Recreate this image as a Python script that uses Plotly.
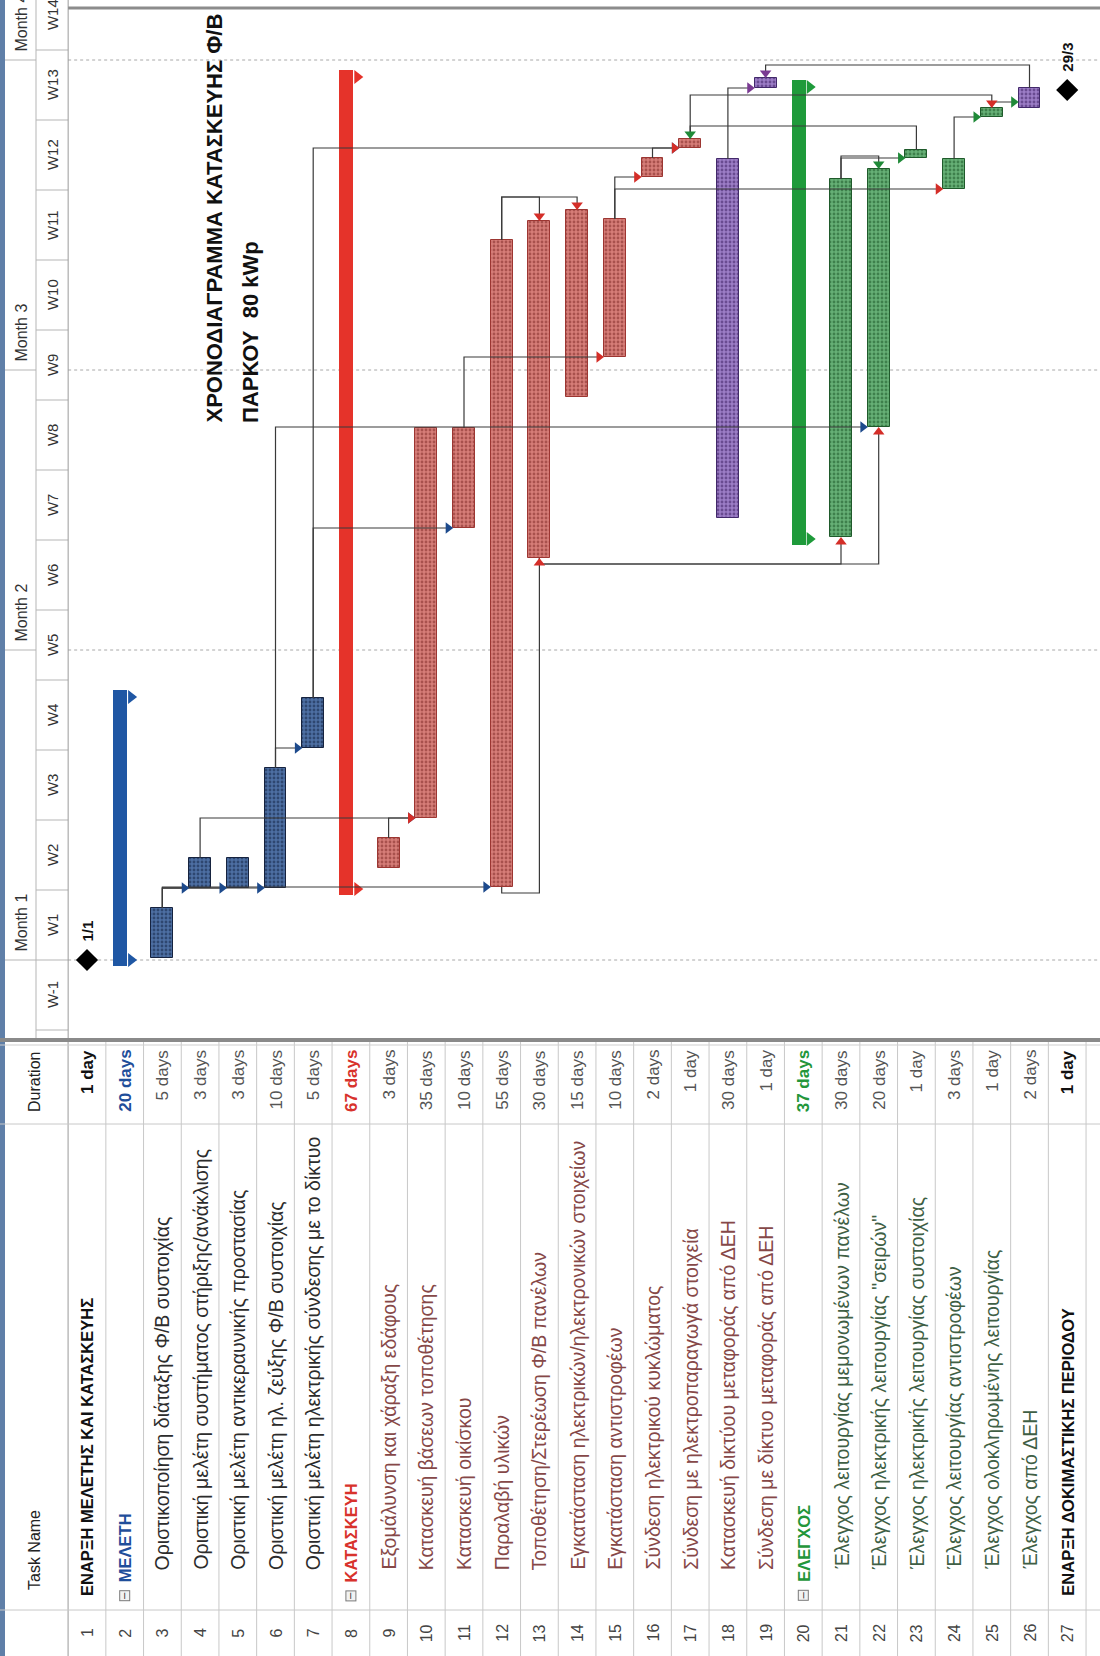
import datetime as dt
import plotly.graph_objects as go

# ---------------- schedule data ----------------
START_DATE = dt.date(2018, 1, 1)

task_ids = list(range(1, 28))
task_names = [
    "ΕΝΑΡΞΗ ΜΕΛΕΤΗΣ ΚΑΙ ΚΑΤΑΣΚΕΥΗΣ",
    "ΜΕΛΕΤΗ",
    "Οριστικοποίηση διάταξης Φ/Β συστοιχίας",
    "Οριστική μελέτη συστήματος στήριξης/ανάκλισης",
    "Οριστική μελέτη αντικεραυνικής προστασίας",
    "Οριστική μελέτη ηλ. ζεύξης Φ/Β συστοιχίας",
    "Οριστική μελέτη ηλεκτρικής σύνδεσης με το δίκτυο",
    "ΚΑΤΑΣΚΕΥΗ",
    "Εξομάλυνση και χάραξη εδάφους",
    "Κατασκευή βάσεων τοποθέτησης",
    "Κατασκευή οικίσκου",
    "Παραλαβή υλικών",
    "Τοποθέτηση/Στερέωση Φ/Β πανέλων",
    "Εγκατάσταση ηλεκτρικών/ηλεκτρονικών στοιχείων",
    "Εγκατάσταση αντιστροφέων",
    "Σύνδεση ηλεκτρικού κυκλώματος",
    "Σύνδεση με ηλεκτροπαραγωγά στοιχεία",
    "Κατασκευή δικτύου μεταφοράς από ΔΕΗ",
    "Σύνδεση με δίκτυο μεταφοράς από ΔΕΗ",
    "ΕΛΕΓΧΟΣ",
    "Έλεγχος λειτουργίας μεμονωμένων πανέλων",
    "Έλεγχος ηλεκτρικής λειτουργίας \"σειρών\"",
    "Έλεγχος ηλεκτρικής λειτουργίας συστοιχίας",
    "Έλεγχος λειτουργίας αντιστροφέων",
    "Έλεγχος ολοκληρωμένης λειτουργίας",
    "Έλεγχος από ΔΕΗ",
    "ΕΝΑΡΞΗ ΔΟΚΙΜΑΣΤΙΚΗΣ ΠΕΡΙΟΔΟΥ",
]
task_durations = [
    "1 day", "20 days", "5 days", "3 days", "3 days", "10 days", "5 days",
    "67 days", "3 days", "35 days", "10 days", "55 days", "30 days", "15 days",
    "10 days", "2 days", "1 day", "30 days", "1 day", "37 days", "30 days",
    "20 days", "1 day", "3 days", "1 day", "2 days", "1 day",
]
task_kind = (["milestone", "summary"] + ["task"] * 5 + ["summary"] + ["task"] * 11
             + ["summary"] + ["task"] * 6 + ["milestone"])
task_section = ["top"] + ["study"] * 6 + ["build"] * 12 + ["check"] * 7 + ["top"]

# work bars: row, start and finish in calendar days after the project start
bar_rows = [3, 4, 5, 6, 7, 9, 10, 11, 12, 13, 14, 15, 16, 17, 18, 19,
            21, 22, 23, 24, 25, 26]
bar_start = [0.2, 7.2, 7.2, 7.2, 21.2, 9.2, 14.2, 43.2, 7.3, 40.2, 56.3,
             60.3, 78.3, 81.2, 44.2, 87.2, 42.3, 53.3, 80.2, 77.1, 84.3, 85.2]
bar_finish = [5.2, 10.2, 10.2, 19.2, 26.2, 12.2, 53.2, 53.2, 72.0, 73.9,
              75.0, 74.1, 80.2, 82.1, 80.1, 88.2, 78.1, 79.1, 81.0, 80.1,
              85.2, 87.2]
bar_style = (["blue"] * 5 + ["red"] * 9 + ["purple"] * 2 + ["green"] * 5
             + ["purple"])

summary_rows = [2, 8, 20]
summary_children = [[3, 4, 5, 6, 7],
                    [9, 10, 11, 12, 13, 14, 15, 16, 17, 18, 19],
                    [21, 22, 23, 24, 25, 26]]
summary_style = ["blue", "red", "green"]

milestone_rows = [1, 27]
milestone_dates = [dt.date(2018, 1, 1), dt.date(2018, 3, 29)]

# dependencies: predecessor, successor, type
link_from = [3, 3, 3, 3, 4, 9, 6, 6, 7, 7, 11, 15, 15, 16, 18, 21, 24, 25,
             12, 12, 23, 17, 26, 21, 12, 13, 13]
link_to = [4, 5, 6, 12, 10, 10, 7, 22, 11, 17, 15, 16, 24, 17, 19, 23, 25, 26,
           13, 14, 17, 25, 19, 22, 13, 21, 22]
link_type = (["FS"] * 18 + ["FF"] * 6 + ["SS"] * 3)

# timescale
week_labels = ["W-1", "W1", "W2", "W3", "W4", "W5", "W6", "W7", "W8", "W9",
               "W10", "W11", "W12", "W13", "W14"]
week_edges = [-7, 0, 7, 14, 21, 28, 35, 42, 49, 56, 63, 70, 77, 84, 91, 98]
month_labels = ["Month 1", "Month 2", "Month 3", "Month 4"]
month_dates = [dt.date(2018, 1, 1), dt.date(2018, 2, 1), dt.date(2018, 3, 1),
               dt.date(2018, 4, 1)]

title_lines = ["ΧΡΟΝΟΔΙΑΓΡΑΜΜΑ ΚΑΤΑΣΚΕΥΗΣ Φ/Β", "ΠΑΡΚΟΥ  80 kWp"]

# ---------------- page geometry ----------------
W, H = 1100, 1656
ROW0_PX, ROW_PX = 87.0, 37.7      # centre of row 1, row pitch
DAY0_PX, DAY_PX = 960.0, 10.0     # project start line, pixels per day


def xr(px):
    return 1 + (px - ROW0_PX) / ROW_PX


def yd(px):
    return (DAY0_PX - px) / DAY_PX


def day_of(d):
    return (d - START_DATE).days


NARROW = "Liberation Sans Narrow, Arial Narrow, Liberation Sans, Arial, sans-serif"
BAR_W = 0.58
SUM_W, SUM_OFF = 0.37, -0.31

STYLE = {
    "blue": dict(fill="#4d6fa3", dots="#101f3d", edge="#16233f",
                 arrow="#1d4a8c", summary="#1f57a4"),
    "red": dict(fill="#d67d78", dots="#7a2622", edge="#9c3632",
                arrow="#d42e28", summary="#e5332a"),
    "purple": dict(fill="#9c7dc6", dots="#36195c", edge="#42296a",
                   arrow="#7a3a92", summary="#7a3a92"),
    "green": dict(fill="#66b076", dots="#154f22", edge="#1f5a2b",
                  arrow="#1f8a38", summary="#1e9a3a"),
}

fig = go.Figure()
shapes = []
ann = []

# ---------------- chart frame ----------------
chart_bottom = yd(1040)
x_left_edge = xr(0)
x_right_edge = xr(W)
x_tier = xr(36)
x_head = 0.5

# month gridlines (dotted)
for md in month_dates:
    shapes.append(dict(type="line", x0=x_head, x1=x_right_edge,
                       y0=day_of(md), y1=day_of(md),
                       line=dict(color="#a8a8a8", width=1, dash="dot"),
                       layer="below"))

# timescale header: week tier + month tier
for e in week_edges:
    if chart_bottom <= e <= yd(0):
        shapes.append(dict(type="line", x0=x_tier, x1=x_head, y0=e, y1=e,
                           line=dict(color="#b5b5b5", width=1)))
for i, lab in enumerate(week_labels):
    ann.append(dict(x=(x_tier + x_head) / 2, y=(week_edges[i] + week_edges[i + 1]) / 2,
                    text=lab, showarrow=False, textangle=-90,
                    font=dict(family=NARROW, size=15, color="#333333"),
                    xanchor="center", yanchor="middle"))
for md, lab in zip(month_dates, month_labels):
    d0 = day_of(md)
    shapes.append(dict(type="line", x0=xr(5), x1=x_tier, y0=d0, y1=d0,
                       line=dict(color="#b5b5b5", width=1)))
    ann.append(dict(x=(xr(5) + x_tier) / 2, y=d0 + 0.6, text=lab,
                    showarrow=False, textangle=-90,
                    font=dict(family=NARROW, size=16, color="#333333"),
                    xanchor="center", yanchor="bottom"))

# vertical rules of header column
shapes.append(dict(type="line", x0=x_tier, x1=x_tier, y0=chart_bottom, y1=yd(0),
                   line=dict(color="#b5b5b5", width=1)))
shapes.append(dict(type="line", x0=x_head, x1=x_head, y0=yd(H), y1=yd(0),
                   line=dict(color="#9a9a9a", width=1)))
# outer left border and top rule
shapes.append(dict(type="rect", x0=x_left_edge, x1=xr(5), y0=yd(H), y1=yd(0),
                   fillcolor="#5f7fa8", line=dict(width=0)))
shapes.append(dict(type="line", x0=x_head, x1=x_right_edge, y0=yd(8), y1=yd(8),
                   line=dict(color="#8c8c8c", width=3)))

# ---------------- table ----------------
table_top = yd(1040)
table_bot = yd(H)
for k in range(0, 28):
    xb = k + 0.5
    shapes.append(dict(type="line", x0=xb, x1=xb, y0=table_bot, y1=table_top,
                       line=dict(color="#c8c8c8", width=1)))
for py in (1610, 1124):
    shapes.append(dict(type="line", x0=x_left_edge, x1=x_right_edge,
                       y0=yd(py), y1=yd(py), line=dict(color="#c8c8c8", width=1)))
shapes.append(dict(type="line", x0=x_left_edge, x1=x_right_edge,
                   y0=yd(1040), y1=yd(1040), line=dict(color="#8a8a8a", width=4)))
shapes.append(dict(type="line", x0=x_left_edge, x1=x_right_edge,
                   y0=yd(1045), y1=yd(1045), line=dict(color="#cfcfcf", width=1)))

ann.append(dict(x=xr(34), y=yd(1592), text="Task Name", showarrow=False,
                textangle=-90, font=dict(family=NARROW, size=16, color="#222222"),
                xanchor="center", yanchor="bottom"))
ann.append(dict(x=xr(34), y=yd(1082), text="Duration", showarrow=False,
                textangle=-90, font=dict(family=NARROW, size=16, color="#222222"),
                xanchor="center", yanchor="middle"))

NAME_COL = {
    ("top", "milestone"): "#111111",
    ("study", "summary"): "#1f4e9a", ("study", "task"): "#2c2c2c",
    ("build", "summary"): "#d8322c", ("build", "task"): "#864848",
    ("check", "summary"): "#23963a", ("check", "task"): "#3f5f45",
}
for tid, name, dur, kind, sec in zip(task_ids, task_names, task_durations,
                                      task_kind, task_section):
    col = NAME_COL[(sec, kind)]
    bold = kind in ("milestone", "summary")
    ann.append(dict(x=tid, y=yd(1633), text=str(tid), showarrow=False,
                    textangle=-90, font=dict(family=NARROW, size=16, color="#444444"),
                    xanchor="center", yanchor="middle"))
    if kind == "summary":
        ann.append(dict(x=tid, y=yd(1601), text="−", showarrow=False,
                        textangle=-90, width=9, height=9, borderpad=0,
                        bordercolor="#7a7a7a", borderwidth=1, bgcolor="#f2f2f2",
                        font=dict(family="DejaVu Sans", size=10, color="#333333"),
                        xanchor="center", yanchor="bottom"))
        y_name = yd(1584)
    elif kind == "milestone":
        y_name = yd(1598)
    else:
        y_name = yd(1572)
    txt = f"<b>{name}</b>" if bold else name
    ann.append(dict(x=tid, y=y_name, text=txt, showarrow=False, textangle=-90,
                    font=dict(family=NARROW, size=16.5 if bold else 19.5, color=col),
                    xanchor="center", yanchor="bottom"))
    dcol = col if bold else "#555555"
    dtxt = f"<b>{dur}</b>" if bold else dur
    ann.append(dict(x=tid, y=yd(1048), text=dtxt, showarrow=False, textangle=-90,
                    font=dict(family=NARROW, size=17, color=dcol),
                    xanchor="center", yanchor="top"))

# ---------------- summary bars ----------------
bar_pos = {r: i for i, r in enumerate(bar_rows)}
for row, kids, st in zip(summary_rows, summary_children, summary_style):
    s = min(bar_start[bar_pos[k]] for k in kids)
    f = max(bar_finish[bar_pos[k]] for k in kids)
    c = STYLE[st]["summary"]
    fig.add_trace(go.Bar(x=[row], y=[f - s + 1.6], base=[s - 0.8], width=SUM_W,
                         offset=SUM_OFF, marker=dict(color=c, line=dict(width=0)),
                         hoverinfo="skip"))
    fig.add_trace(go.Scatter(x=[row + 0.17, row + 0.17], y=[s - 0.2, f + 0.1],
                             mode="markers",
                             marker=dict(symbol="triangle-right", size=12, color=c),
                             hoverinfo="skip"))

# ---------------- task bars ----------------
for st in ["blue", "red", "purple", "green"]:
    idx = [i for i, b in enumerate(bar_style) if b == st]
    sty = STYLE[st]
    fig.add_trace(go.Bar(
        x=[bar_rows[i] for i in idx],
        y=[bar_finish[i] - bar_start[i] for i in idx],
        base=[bar_start[i] for i in idx],
        width=BAR_W,
        marker=dict(color=sty["fill"],
                    line=dict(color=sty["edge"], width=1),
                    pattern=dict(shape=".", fgcolor=sty["dots"], size=4,
                                 solidity=0.4, fillmode="overlay")),
        hoverinfo="skip"))

# ---------------- dependency links ----------------
ARW_R = 0.13   # half arrow, in rows
ARW_D = 0.5    # half arrow, in days
FF_GAP = 1.3
lx, ly = [], []
arrows = {}


def push_arrow(st, sym, x, y):
    arrows.setdefault((st, sym), ([], []))
    arrows[(st, sym)][0].append(x)
    arrows[(st, sym)][1].append(y)


ff_level = {}
for a, b, t in zip(link_from, link_to, link_type):
    if t == "FF":
        lvl = max(bar_finish[bar_pos[a]], bar_finish[bar_pos[b]]) + FF_GAP
        ff_level[a] = max(ff_level.get(a, lvl), lvl)

for a, b, t in zip(link_from, link_to, link_type):
    ia, ib = bar_pos[a], bar_pos[b]
    st = bar_style[ia]
    if t == "FS":
        yl = max(bar_start[ib], bar_finish[ia] + 0.6)
        xe = b - BAR_W / 2
        lx += [a, a, xe - ARW_R, None]
        ly += [bar_finish[ia], yl, yl, None]
        push_arrow(st, "triangle-right", xe - ARW_R, yl)
    elif t == "FF":
        yl = ff_level[a]
        lx += [a, a, b, b, None]
        ly += [bar_finish[ia], yl, yl, bar_finish[ib] + ARW_D, None]
        push_arrow(st, "triangle-down", b, bar_finish[ib] + ARW_D)
    else:
        yl = min(bar_start[ia], bar_start[ib]) - 0.6
        lx += [a, a, b, b, None]
        ly += [bar_start[ia], yl, yl, bar_start[ib] - ARW_D, None]
        push_arrow(st, "triangle-up", b, bar_start[ib] - ARW_D)

fig.add_trace(go.Scatter(x=lx, y=ly, mode="lines",
                         line=dict(color="#3a3a3a", width=1.2),
                         hoverinfo="skip"))
for (st, sym), (ax, ay) in arrows.items():
    fig.add_trace(go.Scatter(x=ax, y=ay, mode="markers",
                             marker=dict(symbol=sym, size=10,
                                         color=STYLE[st]["arrow"]),
                             hoverinfo="skip"))

# ---------------- milestones ----------------
ms_days = [day_of(d) for d in milestone_dates]
fig.add_trace(go.Scatter(x=milestone_rows, y=ms_days, mode="markers",
                         marker=dict(symbol="diamond", size=17, color="#000000"),
                         hoverinfo="skip"))
for r, d, dd in zip(milestone_rows, ms_days, milestone_dates):
    ann.append(dict(x=r, y=d + 1.6, text=f"<b>{dd.day}/{dd.month}</b>",
                    showarrow=False, textangle=-90,
                    font=dict(family=NARROW, size=15, color="#111111"),
                    xanchor="center", yanchor="bottom"))

# ---------------- title ----------------
for k, line in enumerate(title_lines):
    ann.append(dict(x=xr(214 + 36 * k), y=yd(425), text=f"<b>{line}</b>",
                    showarrow=False, textangle=-90,
                    font=dict(family=NARROW, size=22, color="#111111"),
                    xanchor="center", yanchor="bottom"))

fig.update_layout(
    width=W, height=H,
    margin=dict(l=0, r=0, t=0, b=0, pad=0),
    paper_bgcolor="white", plot_bgcolor="white",
    showlegend=False, barmode="overlay", bargap=0,
    xaxis=dict(range=[xr(0), xr(W)], visible=False, fixedrange=True),
    yaxis=dict(range=[yd(H), yd(0)], visible=False, fixedrange=True),
    shapes=shapes, annotations=ann,
)

fig.write_html("out.html")
